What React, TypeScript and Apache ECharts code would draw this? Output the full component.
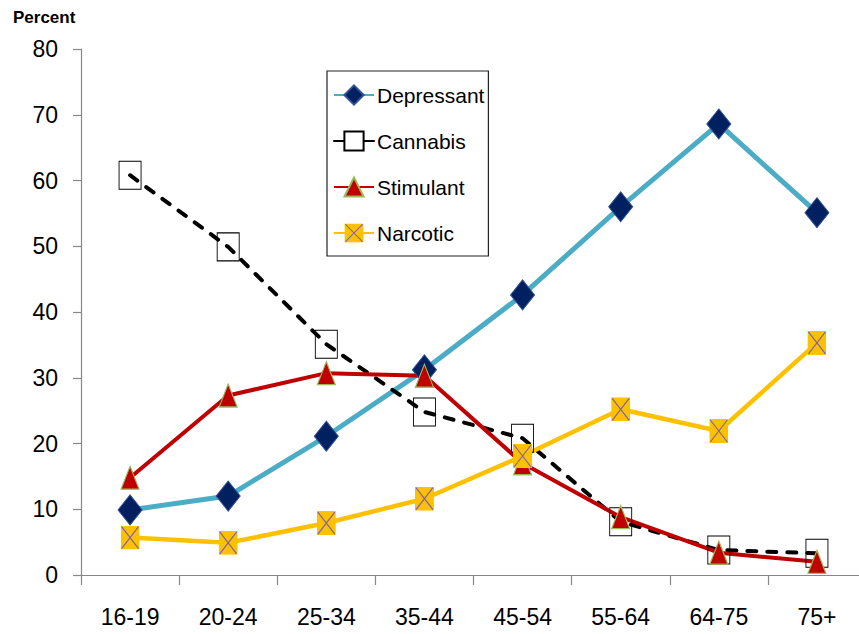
import React, { useEffect, useRef } from "react";
import * as echarts from "echarts";

// Age groups along the x axis
const ageGroups = ["16-19", "20-24", "25-34", "35-44", "45-54", "55-64", "64-75", "75+"];

// Percent of drivers by drug category
const depressant = [9.9, 12.0, 21.1, 31.2, 42.6, 56.0, 68.6, 55.1];
const cannabis = [60.8, 49.9, 35.1, 24.8, 20.8, 8.1, 3.8, 3.3];
const stimulant = [14.8, 27.3, 30.7, 30.3, 17.0, 8.8, 3.4, 2.0];
const narcotic = [5.7, 4.9, 7.9, 11.6, 18.1, 25.2, 21.9, 35.3];

const yTicks = { min: 0, max: 80, interval: 10 };

const FONT = "'Liberation Sans Narrow', 'Arial Narrow', 'Liberation Sans', Arial, sans-serif";

// Gold square with a purple cross for the narcotic markers
const narcoticSvg =
  '<svg xmlns="http://www.w3.org/2000/svg" width="19" height="24" viewBox="0 0 19 24" preserveAspectRatio="none">' +
  '<rect x="0" y="0" width="19" height="24" fill="#FFC000"/>' +
  '<path d="M1,1 L18,23 M18,1 L1,23" stroke="#8064A2" stroke-width="1.2" fill="none"/>' +
  "</svg>";
const narcoticSymbol = "image://data:image/svg+xml;charset=utf-8," + encodeURIComponent(narcoticSvg);

export default function App() {
  const ref = useRef<HTMLDivElement>(null);

  useEffect(() => {
    if (!ref.current) return;
    const chart = echarts.init(ref.current, undefined, { renderer: "svg" });
    chart.setOption({
      animation: false,
      backgroundColor: "#ffffff",
      textStyle: { fontFamily: FONT },
      grid: {
        left: 81,
        top: 49,
        width: 785,
        height: 526,
        containLabel: false,
        outerBoundsMode: "none",
      },
      graphic: [
        {
          type: "text",
          left: 13,
          top: 9,
          style: {
            text: "Percent",
            font: "bold 17px 'Liberation Sans', Arial, sans-serif",
            fill: "#000",
          },
        },
      ],
      legend: {
        orient: "vertical",
        left: 327,
        top: 71,
        padding: [12, 4, 11, 6],
        itemGap: 22,
        itemWidth: 40,
        itemHeight: 24,
        backgroundColor: "#fff",
        borderColor: "#222",
        borderWidth: 1.2,
        borderRadius: 0,
        textStyle: {
          fontFamily: FONT,
          fontSize: 21,
          lineHeight: 24,
          color: "#000",
          padding: [0, 0, 0, -2],
        },
        data: [
          "Depressant",
          {
            name: "Cannabis",
            lineStyle: { type: "solid" },
            itemStyle: { color: "#ffffff" },
          },
          "Stimulant",
          "Narcotic",
        ],
      },
      xAxis: {
        type: "category",
        data: ageGroups,
        boundaryGap: true,
        axisLine: { lineStyle: { color: "#888", width: 1.2 } },
        axisTick: { show: true, length: 10, inside: false, lineStyle: { color: "#888", width: 1.2 } },
        axisLabel: { margin: 30, fontFamily: FONT, fontSize: 23, color: "#000" },
        splitLine: { show: false },
      },
      yAxis: {
        type: "value",
        min: yTicks.min,
        max: yTicks.max,
        interval: yTicks.interval,
        axisLine: { show: true, lineStyle: { color: "#888", width: 1.2 } },
        axisTick: { show: true, length: 8, inside: false, lineStyle: { color: "#888", width: 1.2 } },
        axisLabel: { margin: 23, fontFamily: FONT, fontSize: 23, color: "#000" },
        splitLine: { show: false },
      },
      series: [
        {
          name: "Depressant",
          type: "line",
          data: depressant,
          symbol: "diamond",
          symbolSize: [24, 30],
          lineStyle: { color: "#4BACC6", width: 5 },
          itemStyle: { color: "#002060", borderColor: "#2E4F95", borderWidth: 1 },
          emphasis: { disabled: true },
        },
        {
          name: "Cannabis",
          type: "line",
          data: cannabis,
          symbol: "rect",
          symbolSize: [22, 28],
          lineStyle: { color: "#000", width: 4, type: [9, 11], cap: "round" },
          itemStyle: { color: "rgba(255,255,255,0)", borderColor: "#000", borderWidth: 1 },
          emphasis: { disabled: true },
        },
        {
          name: "Stimulant",
          type: "line",
          data: stimulant,
          symbol: "triangle",
          symbolSize: [18, 23],
          lineStyle: { color: "#C00000", width: 4 },
          itemStyle: { color: "#C00000", borderColor: "#9BBB59", borderWidth: 1.2 },
          emphasis: { disabled: true },
        },
        {
          name: "Narcotic",
          type: "line",
          data: narcotic,
          symbol: narcoticSymbol,
          symbolSize: [19, 24],
          lineStyle: { color: "#FFC000", width: 4.5 },
          itemStyle: { color: "#FFC000" },
          emphasis: { disabled: true },
        },
      ],
    });
    return () => chart.dispose();
  }, []);

  return (
    <div
      ref={ref}
      style={{ position: "fixed", left: 0, top: 0, width: 859, height: 634, background: "#fff" }}
    />
  );
}
